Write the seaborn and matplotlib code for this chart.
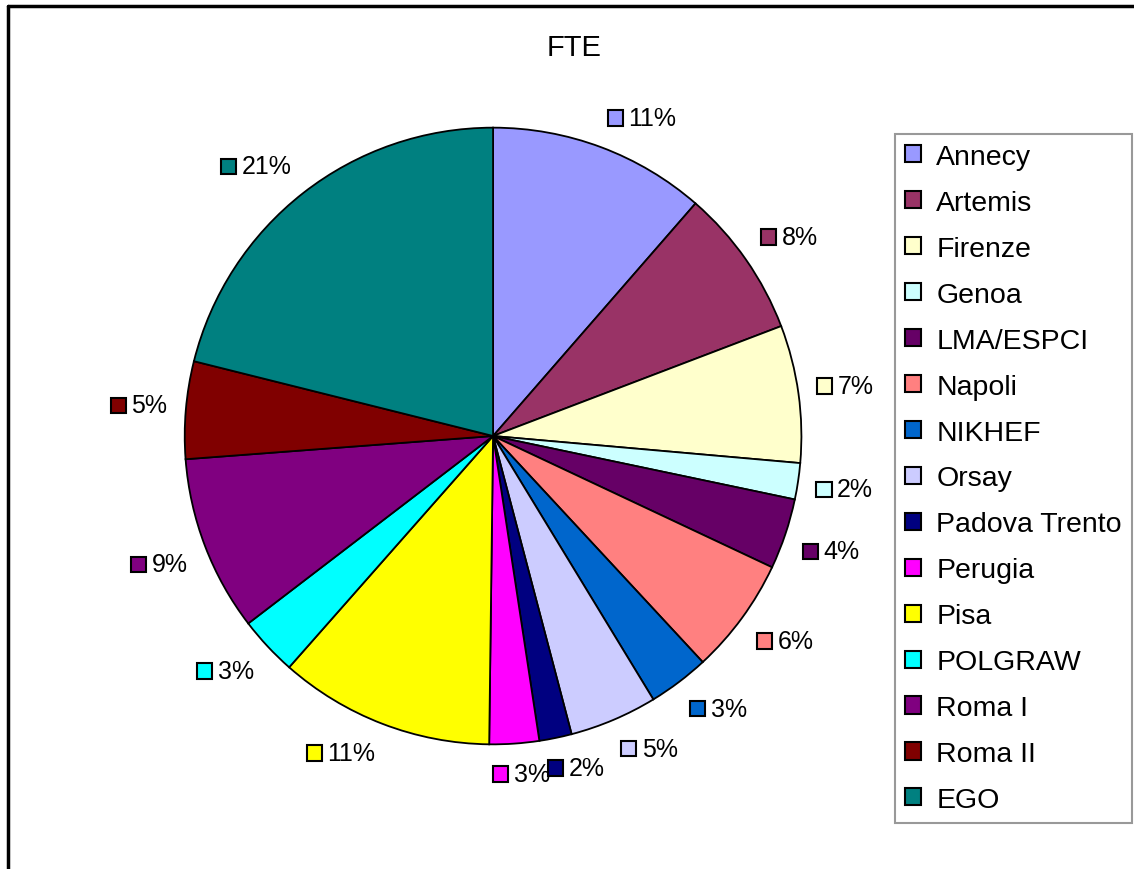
import numpy as np
import seaborn as sns
import matplotlib.pyplot as plt
from matplotlib.patches import Patch, Rectangle
from matplotlib.lines import Line2D
from matplotlib.offsetbox import AnnotationBbox, DrawingArea, HPacker, TextArea

# FTE share per group
groups = ['Annecy', 'Artemis', 'Firenze', 'Genoa', 'LMA/ESPCI', 'Napoli', 'NIKHEF',
          'Orsay', 'Padova Trento', 'Perugia', 'Pisa', 'POLGRAW', 'Roma I', 'Roma II', 'EGO']
fte = [11.4, 7.8, 7.2, 1.9, 3.7, 6.1, 3.2, 4.6, 1.7, 2.6, 11.3, 3.1, 9.2, 5.1, 21.1]
colors = ['#9999FF', '#993366', '#FFFFCC', '#CCFFFF', '#660066', '#FF8080', '#0066CC',
          '#CCCCFF', '#000080', '#FF00FF', '#FFFF00', '#00FFFF', '#800080', '#800000', '#008080']

sns.set_theme(style='white')
plt.rcParams['font.family'] = ['Liberation Sans', 'DejaVu Sans']
plt.rcParams['text.color'] = 'black'

pal = sns.color_palette(colors)
fig = plt.figure(figsize=(11.34, 8.70), dpi=100)
ax = fig.add_axes([0.1085, 0.0724, 0.6526, 0.8506])

wedges, _ = ax.pie(fte, colors=pal, startangle=90, counterclock=False,
                   wedgeprops=dict(edgecolor='black', linewidth=1.3))
ax.set_xlim(-1.2, 1.2)
ax.set_ylim(-1.2, 1.2)
ax.set_aspect('equal')
ax.axis('off')

# percentage labels with a small colour key, Excel style
total = sum(fte)
for w, val, col in zip(wedges, fte, pal):
    mid = np.deg2rad((w.theta1 + w.theta2) / 2)
    x, y = np.cos(mid), np.sin(mid)
    fx = np.clip(3 * x, -1, 1)
    fy = np.clip(3 * y, -1, 1)
    da = DrawingArea(11, 11, 0, 0)
    da.add_artist(Rectangle((0, 0), 11, 11, facecolor=col, edgecolor='black', linewidth=1.5))
    txt = TextArea(f'{val / total * 100:.0f}%', textprops=dict(fontsize=18, color='black'))
    box = HPacker(children=[da, txt], align='center', pad=0, sep=4)
    ab = AnnotationBbox(box, (1.06 * x, 1.06 * y), xycoords='data', frameon=False,
                        box_alignment=(0.5 - 0.5 * fx, 0.5 - 0.5 * fy), pad=0)
    ax.add_artist(ab)

fig.text(574 / 1134, 1 - 48 / 870, 'FTE', ha='center', va='center', fontsize=21, color='black')

handles = [Patch(facecolor=c, edgecolor='black', linewidth=1.5) for c in pal]
leg = fig.legend(handles, groups, loc='upper right', bbox_to_anchor=(1132 / 1134, 1 - 135 / 870),
                 borderaxespad=0, fontsize=20.5, frameon=True, fancybox=False,
                 handlelength=0.55, handleheight=0.55, handletextpad=0.55,
                 labelspacing=0.70, borderpad=0.35)
leg.get_frame().set_edgecolor('#808080')
leg.get_frame().set_linewidth(1.5)
for t in leg.get_texts():
    t.set_color('black')

# outer frame (top and left edges visible)
fig.add_artist(Line2D([8 / 1134, 1], [1 - 7 / 870, 1 - 7 / 870], color='black', linewidth=2.5,
                      transform=fig.transFigure))
fig.add_artist(Line2D([8 / 1134, 8 / 1134], [0, 1 - 7 / 870], color='black', linewidth=2.5,
                      transform=fig.transFigure))

fig.savefig('out.png', dpi=100)
